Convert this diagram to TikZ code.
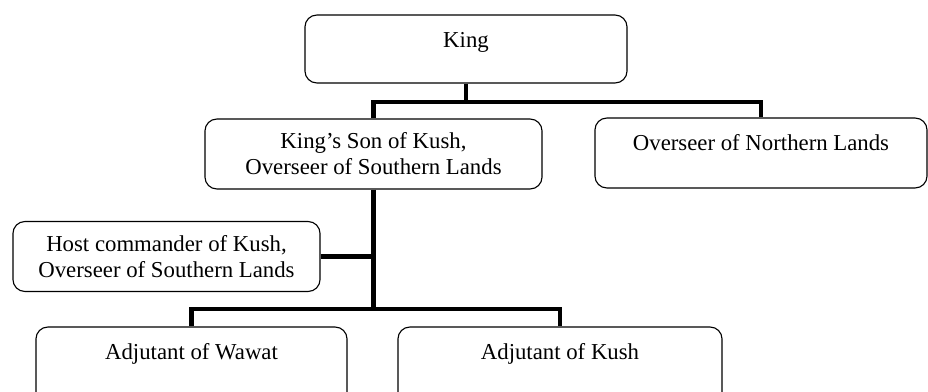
\documentclass[tikz,border=0pt]{standalone}
\usepackage{fontspec}
\setmainfont{Liberation Serif}
\usepackage{tikz}

\begin{document}
\begin{tikzpicture}[x=0.025cm,y=-0.025cm,
  box/.style={draw,rounded corners=0.3cm,line width=0.8pt,minimum width=#1,
    font=\fontsize{16.2}{18.5}\selectfont},
  onebox/.style={box=#1,inner ysep=0pt,text height=0.825cm},
  twobox/.style={box=#1,align=center,minimum height=1.75cm},
  conn/.style={line width=3pt}]
\clip (0,0) rectangle (928,392);

% top level
\node[onebox=8.05cm,text depth=0.875cm] (king) at (466,49) {King};
\coordinate (kbar) at (466,102);

% second level
\node[twobox=8.425cm] (son) at (373.5,154) {King's Son of Kush,\\ Overseer of Southern Lands};
\node[onebox=8.3cm,text depth=0.925cm] (north) at (761,153) {Overseer of Northern Lands};
\node[twobox=7.675cm] (host) at (166.5,256.5) {Host commander of Kush,\\ Overseer of Southern Lands};

% adjutants
\node[onebox=7.775cm,text depth=1.125cm] (wawat) at (191.5,366) {Adjutant of Wawat};
\node[onebox=8.1cm,text depth=1.125cm] (kush) at (560,366) {Adjutant of Kush};
\coordinate (abar) at (373.5,309);

% connectors
\draw[conn] (king.south) -- (kbar);
\draw[conn] (son.north) |- (kbar) -| (north.north);
\draw[conn] (son.south) -- (abar);
\draw[conn] (host.east) -- (host.east -| son.south);
\draw[conn] (wawat.north) |- (abar) -| (kush.north);
\end{tikzpicture}
\end{document}
